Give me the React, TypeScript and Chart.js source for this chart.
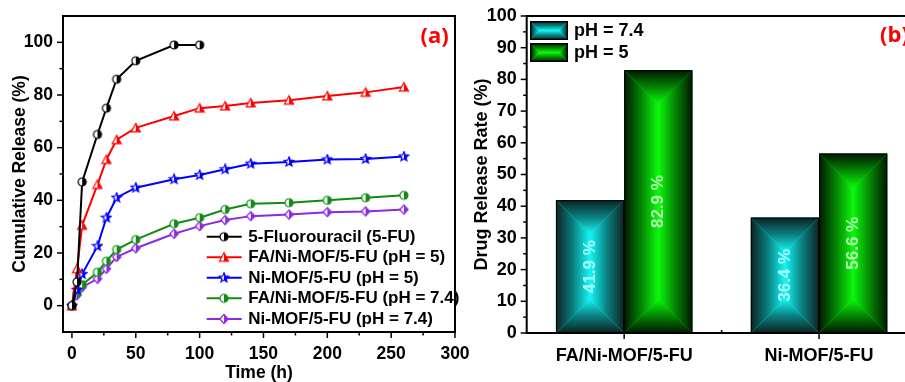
import React, { useEffect, useRef } from 'react';
import { Chart, registerables } from 'chart.js';
Chart.register(...registerables);

// ---------- Panel (a) data ----------
const TIME_H = [0, 4, 8, 20, 27, 35, 50, 80, 100, 120, 140, 170, 200, 230, 260];
const FU_TIME_H = [0, 4, 8, 20, 27, 35, 50, 80, 100];
const FU_RELEASE = [0, 9, 47, 65, 75, 86, 93, 99, 99];
const FA_NI_PH5 = [0, 14, 30.5, 46, 55.5, 63, 67.5, 72, 75, 75.8, 77, 78, 79.6, 81, 83];
const NI_PH5 = [0, 6, 12, 22.6, 33.4, 41, 44.8, 48, 49.6, 51.8, 53.9, 54.6, 55.5, 55.7, 56.6];
const FA_NI_PH74 = [0, 5, 8, 12.7, 16.9, 21.3, 25.1, 31.1, 33.4, 36.5, 38.7, 39.1, 40, 41, 41.9];
const NI_PH74 = [0, 4, 7, 10.2, 14, 18.5, 21.8, 27.3, 30.2, 32.5, 34, 34.6, 35.5, 35.8, 36.5];
const SERIES_LABELS = [
  '5-Fluorouracil (5-FU)',
  'FA/Ni-MOF/5-FU (pH = 5)',
  'Ni-MOF/5-FU (pH = 5)',
  'FA/Ni-MOF/5-FU (pH = 7.4)',
  'Ni-MOF/5-FU (pH = 7.4)',
];
const A_X_MAJOR = [0, 50, 100, 150, 200, 250, 300];
const A_X_MINOR = [25, 75, 125, 175, 225, 275];
const A_Y_MAJOR = [0, 20, 40, 60, 80, 100];
const A_Y_MINOR = [10, 30, 50, 70, 90];

// ---------- Panel (b) data ----------
const CATEGORIES = ['FA/Ni-MOF/5-FU', 'Ni-MOF/5-FU'];
const RATE_PH74 = [41.9, 36.4];
const RATE_PH5 = [82.9, 56.6];
const BAR_SERIES = ['pH = 7.4', 'pH = 5'];
const B_Y_MAJOR = [0, 10, 20, 30, 40, 50, 60, 70, 80, 90, 100];
const B_Y_MINOR = [5, 15, 25, 35, 45, 55, 65, 75, 85, 95];

const FONT = "'Liberation Sans', Arial, sans-serif";
const LABEL_FONT = "'Open Sans', 'Liberation Sans', sans-serif";

const LINE_COLORS = ['#000000', '#ff0000', '#0000ff', '#138a13', '#8a2be2'];
const MARKER_SHAPES = ['circle', 'triangle', 'star', 'circle', 'diamond'];
const PILLOW = [
  ['#0d2222', '#0b7f80', '#16f6f6'],
  ['#011801', '#048404', '#0cf80c'],
];
const BAR_TEXT = ['#a8ffff', '#b4ffb4'];

function makeMarker(shape: string, color: string): HTMLCanvasElement {
  const s = 12;
  const c = document.createElement('canvas');
  c.width = s;
  c.height = s;
  const g = c.getContext('2d')!;
  const cx = 6, cy = 6;
  const path = () => {
    g.beginPath();
    if (shape === 'circle') {
      g.arc(cx, cy, 4, 0, Math.PI * 2);
    } else if (shape === 'triangle') {
      g.moveTo(cx, 1.5); g.lineTo(10.5, 9.8); g.lineTo(1.5, 9.8); g.closePath();
    } else if (shape === 'diamond') {
      g.moveTo(cx, 1.5); g.lineTo(10.2, cy); g.lineTo(cx, 10.5); g.lineTo(1.8, cy); g.closePath();
    } else {
      for (let i = 0; i < 10; i++) {
        const r = i % 2 === 0 ? 5 : 2.2;
        const a = -Math.PI / 2 + (i * Math.PI) / 5;
        const x = cx + r * Math.cos(a), y = cy + r * Math.sin(a);
        if (i === 0) g.moveTo(x, y); else g.lineTo(x, y);
      }
      g.closePath();
    }
  };
  path();
  g.fillStyle = '#ffffff';
  g.fill();
  g.save();
  g.beginPath();
  g.rect(cx, 0, s, s);
  g.clip();
  path();
  g.fillStyle = color;
  g.fill();
  g.restore();
  path();
  g.strokeStyle = color;
  g.lineWidth = 1.2;
  g.stroke();
  return c;
}

function drawPillow(ctx: CanvasRenderingContext2D, l: number, t: number, w: number, h: number, c: string[], bw: number) {
  const r = l + w, b = t + h;
  const d = Math.min(w, h) / 2;
  ctx.save();
  ctx.fillStyle = c[2];
  ctx.fillRect(l, t, w, h);
  const side = (x0: number, y0: number, x1: number, y1: number, pts: number[][]) => {
    const g = ctx.createLinearGradient(x0, y0, x1, y1);
    g.addColorStop(0, c[0]);
    g.addColorStop(0.5, c[1]);
    g.addColorStop(1, c[2]);
    ctx.fillStyle = g;
    ctx.beginPath();
    pts.forEach(([x, y], i) => (i ? ctx.lineTo(x, y) : ctx.moveTo(x, y)));
    ctx.closePath();
    ctx.fill();
  };
  side(l, 0, l + d, 0, [[l, t], [l + d, t + d], [l + d, b - d], [l, b]]);
  side(r, 0, r - d, 0, [[r, t], [r - d, t + d], [r - d, b - d], [r, b]]);
  side(0, t, 0, t + d, [[l, t], [r, t], [r - d, t + d], [l + d, t + d]]);
  side(0, b, 0, b - d, [[l, b], [r, b], [r - d, b - d], [l + d, b - d]]);
  ctx.strokeStyle = '#000';
  ctx.lineWidth = bw;
  ctx.strokeRect(l + bw / 2, t + bw / 2, w - bw, h - bw);
  ctx.restore();
}

function line(ctx: CanvasRenderingContext2D, x0: number, y0: number, x1: number, y1: number) {
  ctx.beginPath();
  ctx.moveTo(x0, y0);
  ctx.lineTo(x1, y1);
  ctx.stroke();
}

const noPadV = (s: any, w: number) => { s.width = w; s.paddingTop = 0; s.paddingBottom = 0; };
const noPadH = (s: any, h: number) => { s.height = h; s.paddingLeft = 0; s.paddingRight = 0; };

export default function App() {
  const refA = useRef<HTMLCanvasElement>(null);
  const refB = useRef<HTMLCanvasElement>(null);

  useEffect(() => {
    const markers = MARKER_SHAPES.map((s, i) => makeMarker(s, LINE_COLORS[i]));
    const seriesValues = [FU_RELEASE, FA_NI_PH5, NI_PH5, FA_NI_PH74, NI_PH74];
    const datasetsA = seriesValues.map((vals, i) => {
      const times = i === 0 ? FU_TIME_H : TIME_H;
      return {
        label: SERIES_LABELS[i],
        data: vals.map((v, j) => ({ x: times[j], y: v })),
        borderColor: LINE_COLORS[i],
        backgroundColor: LINE_COLORS[i],
        borderWidth: 2,
        pointStyle: markers[i] as any,
        pointRadius: 5,
        tension: 0,
      };
    });

    const tickFontA = { family: FONT, size: 17.5, weight: 'bold' as const };

    const panelAPlugin = {
      id: 'panelA',
      afterDraw(chart: any) {
        const ctx: CanvasRenderingContext2D = chart.ctx;
        const { left, right, top, bottom } = chart.chartArea;
        const xs = chart.scales.x, ys = chart.scales.y;
        ctx.save();
        ctx.strokeStyle = '#000';
        ctx.lineWidth = 1.5;
        A_X_MAJOR.forEach((v) => { const p = xs.getPixelForValue(v); line(ctx, p, bottom, p, bottom + 6); });
        A_X_MINOR.forEach((v) => { const p = xs.getPixelForValue(v); line(ctx, p, bottom, p, bottom + 3.5); });
        A_Y_MAJOR.forEach((v) => { const p = ys.getPixelForValue(v); line(ctx, left - 6, p, left, p); });
        A_Y_MINOR.forEach((v) => { const p = ys.getPixelForValue(v); line(ctx, left - 3.5, p, left, p); });
        ctx.lineWidth = 2;
        ctx.strokeRect(left, top, right - left, bottom - top);

        // legend
        const rowY = [236.7, 257.3, 277.7, 298.3, 319];
        ctx.font = `bold 17px ${FONT}`;
        ctx.textBaseline = 'middle';
        ctx.textAlign = 'left';
        SERIES_LABELS.forEach((lab, i) => {
          const y = rowY[i];
          ctx.strokeStyle = LINE_COLORS[i];
          ctx.lineWidth = 2;
          line(ctx, 206.7, y, 241.7, y);
          ctx.drawImage(markers[i], 224 - 6, y - 6);
          ctx.fillStyle = '#000';
          ctx.fillText(lab, 248.3, y + 0.5);
        });

        ctx.fillStyle = '#ff0000';
        ctx.font = `bold 22px ${LABEL_FONT}`;
        ctx.textAlign = 'left';
        ctx.fillText('(a)', 420.5, 36.7);
        ctx.restore();
      },
    };

    const chartA = new Chart(refA.current!, {
      type: 'line',
      data: { datasets: datasetsA as any },
      plugins: [panelAPlugin],
      options: {
        animation: false,
        responsive: false,
        maintainAspectRatio: false,
        devicePixelRatio: 1,
        layout: { padding: { left: 0, top: 16, right: 25, bottom: 0 } },
        plugins: { legend: { display: false }, tooltip: { enabled: false } },
        scales: {
          x: {
            type: 'linear',
            min: -7,
            max: 300,
            afterBuildTicks: (s: any) => { s.ticks = A_X_MAJOR.map((v) => ({ value: v })); },
            afterFit: (s: any) => noPadH(s, 50),
            grid: { display: false, drawTicks: false },
            border: { display: false },
            ticks: { font: tickFontA, color: '#000', padding: 12, maxRotation: 0 },
            title: { display: true, text: 'Time (h)', color: '#000', font: { family: FONT, size: 17.5, weight: 'bold', lineHeight: 1 }, padding: 0 },
          },
          y: {
            type: 'linear',
            min: -10,
            max: 110,
            afterBuildTicks: (s: any) => { s.ticks = A_Y_MAJOR.map((v) => ({ value: v })); },
            afterFit: (s: any) => noPadV(s, 63),
            grid: { display: false, drawTicks: false },
            border: { display: false },
            ticks: { font: tickFontA, color: '#000', padding: 10 },
            title: { display: true, text: 'Cumulative Release (%)', color: '#000', font: { family: FONT, size: 17.5, weight: 'bold' }, padding: { top: 9.5, bottom: 0 } },
          },
        },
      },
    } as any);

    // ---------- Panel (b) ----------
    const tickFontB = { family: FONT, size: 18, weight: 'bold' as const };
    const panelBPlugin = {
      id: 'panelB',
      afterDatasetsDraw(chart: any) {
        const ctx: CanvasRenderingContext2D = chart.ctx;
        const values = [RATE_PH74, RATE_PH5];
        ctx.save();
        values.forEach((vals, di) => {
          const meta = chart.getDatasetMeta(di);
          meta.data.forEach((el: any, i: number) => {
            const { x, y, base, width } = el.getProps(['x', 'y', 'base', 'width'], true);
            drawPillow(ctx, x - width / 2, y, width, base - y, PILLOW[di], 1);
            ctx.save();
            ctx.translate(x, (y + base) / 2);
            ctx.rotate(-Math.PI / 2);
            ctx.font = `bold 17px ${FONT}`;
            ctx.textAlign = 'center';
            ctx.textBaseline = 'middle';
            ctx.fillStyle = BAR_TEXT[di];
            ctx.fillText(`${vals[i].toFixed(1)} %`, 0, 0);
            ctx.restore();
          });
        });
        ctx.restore();
      },
      afterDraw(chart: any) {
        const ctx: CanvasRenderingContext2D = chart.ctx;
        const { left, right, top, bottom } = chart.chartArea;
        const xs = chart.scales.x, ys = chart.scales.y;
        ctx.save();
        ctx.strokeStyle = '#000';
        ctx.lineWidth = 1.5;
        B_Y_MAJOR.forEach((v) => { const p = ys.getPixelForValue(v); line(ctx, left - 6, p, left, p); });
        B_Y_MINOR.forEach((v) => { const p = ys.getPixelForValue(v); line(ctx, left - 3.5, p, left, p); });
        CATEGORIES.forEach((_, i) => { const p = xs.getPixelForValue(i); line(ctx, p, bottom, p, bottom + 6); });
        { const p = xs.getPixelForValue(0.5); line(ctx, p, bottom - 3, p, bottom); }
        ctx.lineWidth = 2;
        ctx.strokeRect(left, top, right - left, bottom - top);

        // legend
        const boxes = [21, 43];
        ctx.font = `bold 18px ${FONT}`;
        ctx.textBaseline = 'middle';
        ctx.textAlign = 'left';
        BAR_SERIES.forEach((lab, i) => {
          drawPillow(ctx, 70, boxes[i], 38, 19, PILLOW[i], 1.5);
          ctx.fillStyle = '#000';
          ctx.fillText(lab, 114, boxes[i] + 10);
        });

        ctx.fillStyle = '#ff0000';
        ctx.font = `bold 22px ${LABEL_FONT}`;
        ctx.fillText('(b)', 420, 36);
        ctx.restore();
      },
    };

    const chartB = new Chart(refB.current!, {
      type: 'bar',
      data: {
        labels: CATEGORIES,
        datasets: [
          { label: BAR_SERIES[0], data: RATE_PH74, backgroundColor: 'rgba(0,0,0,0)', borderWidth: 0, categoryPercentage: 0.7, barPercentage: 1 },
          { label: BAR_SERIES[1], data: RATE_PH5, backgroundColor: 'rgba(0,0,0,0)', borderWidth: 0, categoryPercentage: 0.7, barPercentage: 1 },
        ],
      },
      plugins: [panelBPlugin],
      options: {
        animation: false,
        responsive: false,
        maintainAspectRatio: false,
        devicePixelRatio: 1,
        layout: { padding: { left: 0, top: 16, right: 13.5, bottom: 0 } },
        plugins: { legend: { display: false }, tooltip: { enabled: false } },
        scales: {
          x: {
            type: 'category',
            afterFit: (s: any) => noPadH(s, 49),
            grid: { display: false, drawTicks: false },
            border: { display: false },
            ticks: { font: tickFontB, color: '#000', padding: 12, maxRotation: 0 },
          },
          y: {
            type: 'linear',
            min: 0,
            max: 100,
            afterBuildTicks: (s: any) => { s.ticks = B_Y_MAJOR.map((v) => ({ value: v })); },
            afterFit: (s: any) => noPadV(s, 66.7),
            grid: { display: false, drawTicks: false },
            border: { display: false },
            ticks: { font: tickFontB, color: '#000', padding: 10 },
            title: { display: true, text: 'Drug Release Rate (%)', color: '#000', font: { family: FONT, size: 18, weight: 'bold' }, padding: { top: 10.9, bottom: 0 } },
          },
        },
      },
    } as any);

    return () => {
      chartA.destroy();
      chartB.destroy();
    };
  }, []);

  return (
    <div style={{ position: 'fixed', left: 0, top: 0, width: 905, height: 382, overflow: 'hidden', background: '#fff' }}>
      <canvas ref={refA} width={480} height={382} style={{ position: 'absolute', left: 0, top: 0, width: 480, height: 382 }} />
      <canvas ref={refB} width={470} height={382} style={{ position: 'absolute', left: 460, top: 0, width: 470, height: 382 }} />
    </div>
  );
}
